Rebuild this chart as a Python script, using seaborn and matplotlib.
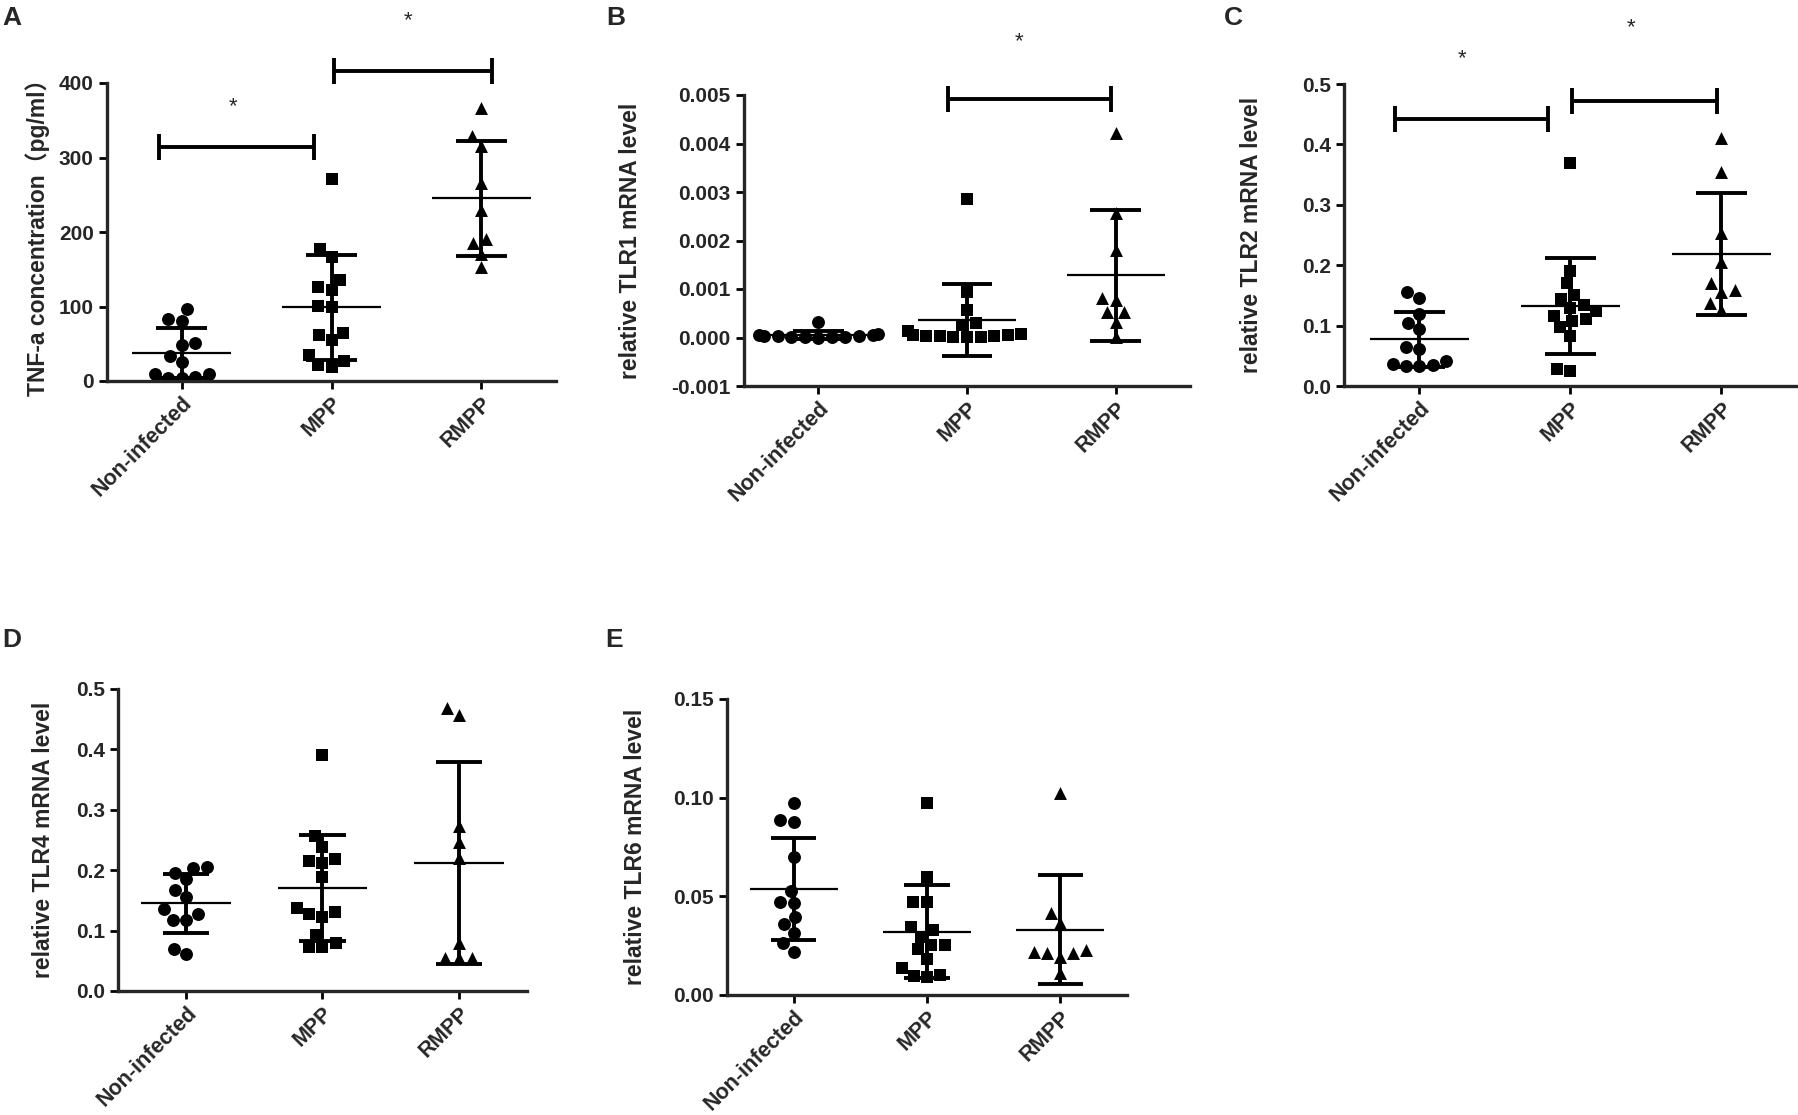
import warnings
warnings.filterwarnings("ignore")
import numpy as np
import pandas as pd
import matplotlib
matplotlib.use("Agg")
import matplotlib.pyplot as plt
import seaborn as sns

sns.set_style("ticks")
plt.rcParams['font.family'] = ['Liberation Sans', 'Noto Sans CJK SC', 'DejaVu Sans']
plt.rcParams['font.weight'] = 'bold'
plt.rcParams['axes.labelweight'] = 'bold'
plt.rcParams['axes.unicode_minus'] = False

# ---------------- data ----------------
groups = ['Non-infected', 'MPP', 'RMPP']

tnf_non = [96, 80, 83, 48, 51, 34, 25, 10, 6, 4, 4, 9]
tnf_mpp = [271, 177, 167, 135, 122, 126, 99, 101, 62, 55, 65, 35, 27, 19, 22]
tnf_rmpp = [366, 329, 316, 266, 229, 191, 185, 171, 153]

tlr1_non = [0.00031, 0.00008, 0.00006, 0.00005, 0.00004, 0.00003, 0.00003,
            0.00002, 0.00002, 0.00001, 0.00001, 0.0]
tlr1_mpp = [0.00286, 0.00093, 0.00057, 0.00029, 0.00026, 0.00014, 0.00008,
            0.00006, 0.00005, 0.00004, 0.00003, 0.00003, 0.00002, 0.00001, 0.00001]
tlr1_rmpp = [0.00422, 0.00256, 0.0018, 0.00081, 0.00077, 0.00053, 0.00053,
             0.00032, 0.00001]

tlr2_non = [0.155, 0.146, 0.120, 0.104, 0.094, 0.065, 0.062, 0.042, 0.035,
            0.033, 0.033, 0.036]
tlr2_mpp = [0.370, 0.191, 0.170, 0.151, 0.144, 0.129, 0.134, 0.125, 0.116,
            0.111, 0.107, 0.097, 0.083, 0.025, 0.028]
tlr2_rmpp = [0.410, 0.355, 0.253, 0.206, 0.159, 0.170, 0.156, 0.138, 0.126]

tlr4_non = [0.206, 0.196, 0.185, 0.203, 0.168, 0.156, 0.135, 0.128, 0.118,
            0.117, 0.069, 0.061]
tlr4_mpp = [0.390, 0.256, 0.238, 0.216, 0.212, 0.219, 0.189, 0.138, 0.131,
            0.128, 0.122, 0.092, 0.079, 0.073, 0.073]
tlr4_rmpp = [0.457, 0.468, 0.273, 0.247, 0.220, 0.079, 0.055, 0.054, 0.055]

tlr6_non = [0.0975, 0.0878, 0.0887, 0.0698, 0.0529, 0.0465, 0.0473, 0.0397,
            0.036, 0.0316, 0.0262, 0.022]
tlr6_mpp = [0.0971, 0.0596, 0.0473, 0.0473, 0.0343, 0.0329, 0.0296, 0.0253,
            0.0253, 0.0231, 0.0181, 0.0135, 0.0101, 0.009, 0.0098]
tlr6_rmpp = [0.1022, 0.0414, 0.0367, 0.0228, 0.0211, 0.0191, 0.0211, 0.022,
             0.0113]

ylabels = ['TNF-a concentration（pg/ml）', 'relative TLR1 mRNA level',
           'relative TLR2 mRNA level', 'relative TLR4 mRNA level',
           'relative TLR6 mRNA level']
panel_letters = ['A', 'B', 'C', 'D', 'E']

yticks_A = [0, 100, 200, 300, 400]
yticklabels_A = ['0', '100', '200', '300', '400']
yticks_B = [-0.001, 0.0, 0.001, 0.002, 0.003, 0.004, 0.005]
yticklabels_B = ['-0.001', '0.000', '0.001', '0.002', '0.003', '0.004', '0.005']
yticks_C = [0.0, 0.1, 0.2, 0.3, 0.4, 0.5]
yticklabels_C = ['0.0', '0.1', '0.2', '0.3', '0.4', '0.5']
yticks_E = [0.0, 0.05, 0.10, 0.15]
yticklabels_E = ['0.00', '0.05', '0.10', '0.15']

# significance brackets: (x start, x end, y) and stars (x, y)
brackets_A = [(-0.15, 0.88, 314), (1.02, 2.07, 416)]
stars_A = [(0.34, 368), (1.51, 484)]
brackets_B = [(0.87, 1.97, 0.00492)]
stars_B = [(1.35, 0.00610)]
brackets_C = [(-0.16, 0.85, 0.442), (1.01, 1.97, 0.472)]
stars_C = [(0.28, 0.542), (1.40, 0.594)]

# ---------------- layout ----------------
W, H = 1799, 1115
fig = plt.figure(figsize=(W / 100, H / 100), dpi=100)


def make_ax(l, t, r, b):
    return fig.add_axes([l / W, 1 - b / H, (r - l) / W, (b - t) / H])


markers = ['o', 's', '^']


def draw_panel(ax, series, ylim, yticks, yticklabels, ylabel, label_x,
               brackets=(), stars=()):
    for i, (vals, m) in enumerate(zip(series, markers)):
        df = pd.DataFrame({'group': groups[i], 'value': vals})
        sns.swarmplot(data=df, x='group', y='value', order=groups, marker=m,
                      color='black', size=9.3, linewidth=0, ax=ax,
                      warn_thresh=1.0, zorder=2)
        mean = np.mean(vals)
        sd = np.std(vals, ddof=1)
        ax.hlines(mean, i - 0.33, i + 0.33, color='black', lw=1.6, zorder=4)
        ax.vlines(i, mean - sd, mean + sd, color='black', lw=2.8, zorder=4)
        ax.hlines([mean - sd, mean + sd], i - 0.17, i + 0.17, color='black',
                  lw=2.8, zorder=4)
    cap = 0.044 * (ylim[1] - ylim[0])
    for x0, x1, y in brackets:
        ax.plot([x0, x1], [y, y], color='black', lw=2.8, clip_on=False,
                solid_capstyle='butt')
        ax.vlines([x0, x1], y - cap, y + cap, color='black', lw=2.8,
                  clip_on=False)
    for x, y in stars:
        ax.text(x, y, '*', ha='center', va='center', fontsize=16,
                fontweight='normal', clip_on=False)
    ax.set_xlim(-0.5, 2.5)
    ax.set_ylim(*ylim)
    ax.set_yticks(yticks)
    ax.set_yticklabels(yticklabels, fontsize=15, fontweight='bold')
    ax.set_xticks([0, 1, 2])
    ax.set_xticklabels(groups, rotation=45, ha='right', va='top',
                       rotation_mode='anchor', fontsize=15.5, fontweight='bold')
    ax.set_xlabel('')
    ax.set_ylabel(ylabel, fontsize=16.5, fontweight='bold')
    ax.yaxis.set_label_coords(label_x, 0.5)
    sns.despine(ax=ax)
    for s in ['left', 'bottom']:
        ax.spines[s].set_linewidth(2.4)
    ax.tick_params(axis='both', direction='out', length=6, width=2,
                   color='black', pad=3.5)
    ax.tick_params(axis='x', pad=2.5)


axA = make_ax(107, 83, 556, 381)
draw_panel(axA, [tnf_non, tnf_mpp, tnf_rmpp], (0, 400), yticks_A,
           yticklabels_A, ylabels[0], -0.127, brackets_A, stars_A)

axB = make_ax(744, 95, 1190, 386)
draw_panel(axB, [tlr1_non, tlr1_mpp, tlr1_rmpp], (-0.001, 0.005), yticks_B,
           yticklabels_B, ylabels[1], -0.229, brackets_B, stars_B)

axC = make_ax(1344, 84, 1797, 386)
draw_panel(axC, [tlr2_non, tlr2_mpp, tlr2_rmpp], (0, 0.5), yticks_C,
           yticklabels_C, ylabels[2], -0.179, brackets_C, stars_C)

axD = make_ax(118, 689, 527, 991)
draw_panel(axD, [tlr4_non, tlr4_mpp, tlr4_rmpp], (0, 0.5), yticks_C,
           yticklabels_C, ylabels[3], -0.154)

axE = make_ax(727, 699, 1127, 995)
draw_panel(axE, [tlr6_non, tlr6_mpp, tlr6_rmpp], (0, 0.15), yticks_E,
           yticklabels_E, ylabels[4], -0.2)

letter_pos = [(2, 6), (606, 6), (1224, 6), (2, 628), (605, 628)]
for letter, (x, y) in zip(panel_letters, letter_pos):
    fig.text(x / W, 1 - y / H, letter, ha='left', va='top', fontsize=19,
             fontweight='bold')

fig.savefig('out.png', dpi=100)
